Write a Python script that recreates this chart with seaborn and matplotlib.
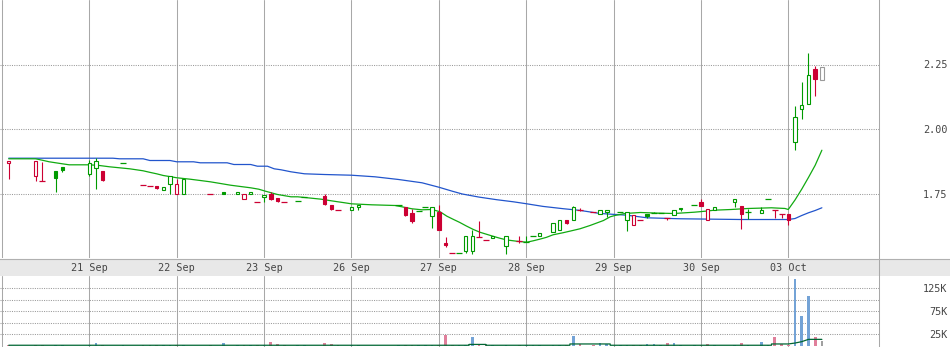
import numpy as np
import pandas as pd
import matplotlib
matplotlib.use("Agg")
import matplotlib.pyplot as plt
import seaborn as sns

# ---------------- data (half-hour bars, 13 slots per trading day) ----------------
day_labels = ["", "21 Sep", "22 Sep", "23 Sep", "26 Sep", "27 Sep", "28 Sep", "29 Sep", "30 Sep", "03 Oct"]
slots_per_day = 13

slot = [1, 5, 6, 8, 9, 13, 14, 15, 18, 21,
        22, 23, 24, 25, 26, 27, 31, 33, 35, 36,
        37, 38, 39, 40, 41, 42, 44, 45, 48, 49,
        50, 52, 53, 59, 60, 61, 62, 63, 64, 65,
        66, 67, 68, 69, 70, 71, 72, 73, 75, 77,
        78, 79, 80, 82, 83, 84, 85, 86, 88, 89,
        90, 92, 93, 94, 95, 96, 97, 98, 99, 100,
        101, 103, 104, 105, 106, 109, 110, 111, 113, 114,
        115, 116, 117, 118, 119, 120, 121, 122]

opens = [1.867, 1.817, 1.799, 1.839, 1.851, 1.825, 1.850, 1.839, 1.869, 1.784,
         1.780, 1.780, 1.764, 1.786, 1.749, 1.749, 1.749, 1.757, 1.749, 1.730,
         1.749, 1.718, 1.737, 1.750, 1.732, 1.718, 1.719, 1.735, 1.742, 1.704,
         1.687, 1.687, 1.699, 1.707, 1.699, 1.673, 1.682, 1.698, 1.664, 1.680,
         1.560, 1.520, 1.518, 1.526, 1.526, 1.581, 1.568, 1.578, 1.546, 1.565,
         1.561, 1.586, 1.587, 1.602, 1.607, 1.648, 1.648, 1.687, 1.679, 1.670,
         1.679, 1.678, 1.647, 1.629, 1.648, 1.670, 1.673, 1.673, 1.656, 1.667,
         1.695, 1.707, 1.718, 1.648, 1.687, 1.716, 1.700, 1.679, 1.674, 1.730,
         1.687, 1.669, 1.669, 1.950, 2.078, 2.098, 2.231, 2.191]

highs = [1.877, 1.877, 1.874, 1.839, 1.851, 1.878, 1.886, 1.839, 1.869, 1.784,
         1.780, 1.780, 1.776, 1.819, 1.808, 1.808, 1.749, 1.757, 1.757, 1.749,
         1.757, 1.718, 1.744, 1.757, 1.732, 1.718, 1.719, 1.735, 1.750, 1.704,
         1.687, 1.697, 1.706, 1.707, 1.699, 1.691, 1.682, 1.698, 1.699, 1.707,
         1.580, 1.520, 1.518, 1.587, 1.608, 1.645, 1.568, 1.587, 1.587, 1.585,
         1.585, 1.586, 1.595, 1.636, 1.648, 1.648, 1.702, 1.692, 1.679, 1.687,
         1.687, 1.678, 1.679, 1.667, 1.648, 1.670, 1.679, 1.673, 1.656, 1.687,
         1.695, 1.707, 1.730, 1.691, 1.699, 1.730, 1.700, 1.688, 1.699, 1.730,
         1.687, 1.669, 1.669, 2.091, 2.181, 2.293, 2.243, 2.241]

lows = [1.805, 1.798, 1.799, 1.755, 1.835, 1.817, 1.766, 1.797, 1.869, 1.784,
        1.780, 1.766, 1.764, 1.749, 1.749, 1.749, 1.749, 1.749, 1.749, 1.730,
        1.749, 1.718, 1.718, 1.724, 1.716, 1.718, 1.719, 1.735, 1.706, 1.685,
        1.687, 1.687, 1.685, 1.707, 1.661, 1.635, 1.682, 1.698, 1.616, 1.607,
        1.542, 1.520, 1.518, 1.520, 1.516, 1.581, 1.568, 1.578, 1.516, 1.557,
        1.561, 1.586, 1.587, 1.602, 1.607, 1.630, 1.648, 1.681, 1.679, 1.670,
        1.660, 1.678, 1.604, 1.629, 1.648, 1.656, 1.673, 1.673, 1.649, 1.667,
        1.683, 1.707, 1.700, 1.648, 1.687, 1.699, 1.614, 1.653, 1.674, 1.730,
        1.654, 1.656, 1.626, 1.918, 2.037, 2.098, 2.127, 2.191]

closes = [1.877, 1.876, 1.799, 1.809, 1.840, 1.869, 1.877, 1.802, 1.869, 1.784,
          1.780, 1.772, 1.776, 1.819, 1.786, 1.808, 1.749, 1.750, 1.757, 1.749,
          1.757, 1.718, 1.744, 1.730, 1.722, 1.718, 1.719, 1.735, 1.710, 1.691,
          1.687, 1.697, 1.706, 1.707, 1.666, 1.642, 1.682, 1.698, 1.699, 1.607,
          1.549, 1.520, 1.518, 1.587, 1.587, 1.581, 1.568, 1.587, 1.587, 1.565,
          1.561, 1.586, 1.595, 1.636, 1.648, 1.635, 1.697, 1.687, 1.679, 1.687,
          1.687, 1.678, 1.678, 1.667, 1.648, 1.662, 1.673, 1.673, 1.656, 1.687,
          1.688, 1.707, 1.700, 1.691, 1.699, 1.730, 1.669, 1.679, 1.687, 1.730,
          1.687, 1.669, 1.649, 2.047, 2.094, 2.211, 2.193, 2.241]

# change versus previous close: up / down / flat (live bar)
ticks = ["down", "down", "down", "up", "up", "up", "up", "down", "up", "down",
         "down", "down", "up", "up", "down", "up", "down", "up", "up", "down",
         "up", "down", "up", "down", "down", "down", "up", "up", "down", "down",
         "down", "up", "up", "up", "down", "down", "up", "up", "up", "down",
         "down", "down", "up", "up", "up", "down", "down", "up", "up", "down",
         "up", "up", "up", "up", "up", "down", "up", "down", "down", "up",
         "up", "up", "up", "down", "down", "up", "up", "up", "down", "up",
         "up", "up", "down", "down", "up", "up", "down", "up", "up", "up",
         "down", "down", "down", "up", "up", "up", "down", "flat"]

volumes = [2000, 2000, 2000, 2000, 2000, 2000, 6000, 2000, 2000, 2000,
           2000, 2000, 2000, 2000, 2000, 2000, 2000, 6000, 2000, 2000,
           2000, 2000, 2000, 8000, 3500, 2000, 2000, 2000, 6000, 3500,
           2000, 2000, 2000, 2000, 2000, 2000, 2000, 2000, 2000, 2500,
           23000, 2000, 2000, 2000, 19000, 2000, 2000, 2000, 2000, 2000,
           2000, 2000, 2000, 2000, 2000, 2500, 21000, 5000, 2000, 6000,
           5000, 2000, 2000, 2000, 2000, 3500, 3500, 2000, 6000, 6000,
           2000, 2000, 2000, 3500, 2000, 2000, 6000, 2000, 8000, 2000,
           19000, 3000, 2000, 145000, 65000, 108000, 19000, 10000]

# moving averages
ma_fast_x = [1, 5, 6, 7, 8, 9, 10, 13,
             14.5, 16, 17.5, 19, 20, 21, 22, 23, 24,
             26, 28, 29.5, 31, 32.5, 34, 35.5, 37, 38.2, 39.2,
             41, 43, 44, 45.5, 47.5, 49, 50, 51, 52, 55,
             58.5, 59.5, 61, 62.5, 64, 65.2, 66.2, 67.2, 68.1, 69.1,
             70.1, 71.1, 72.1, 73.1, 74.1, 75.1, 76.6, 78.1, 79.1, 80.1,
             81, 82, 83.5, 84.5, 86, 87.5, 89.5, 90.5, 91.2, 92.7,
             95, 97.5, 100, 103, 104.9, 106, 108.5, 111, 114.5, 116.5,
             117, 118, 119, 120, 121, 122]
ma_fast_y = [1.8845, 1.8845, 1.879, 1.873, 1.869, 1.865, 1.8612, 1.8612,
             1.8585, 1.8535, 1.8496, 1.8457, 1.8419, 1.838, 1.832, 1.8264, 1.8198,
             1.811, 1.8054, 1.8004, 1.7953, 1.7888, 1.7822, 1.7771, 1.7721, 1.7667, 1.7589,
             1.7461, 1.7372, 1.7372, 1.7333, 1.7279, 1.7217, 1.7178, 1.714, 1.71, 1.7062,
             1.7035, 1.6985, 1.6907, 1.6868, 1.688, 1.679, 1.662, 1.6492, 1.638, 1.624,
             1.611, 1.600, 1.592, 1.584, 1.5765, 1.570, 1.565, 1.5612, 1.567, 1.5735,
             1.580, 1.590, 1.598, 1.604, 1.6132, 1.626, 1.6453, 1.6597, 1.6647, 1.6725,
             1.6764, 1.674, 1.6725, 1.6775, 1.682, 1.6853, 1.688, 1.6919, 1.6946, 1.692,
             1.688, 1.7248, 1.7667, 1.812, 1.8593, 1.9178]

ma_slow_x = [1, 16.5, 17.5, 21, 22, 25, 26, 28.5, 29.5, 33.5,
             34.5, 37, 38, 39.5, 40.5, 41.5, 43, 45, 48, 52,
             55.5, 59, 62.5, 65, 67, 68.5, 71, 73.6, 76.1, 78.1,
             80.5, 83.5, 86, 89, 93, 96, 101, 110, 117, 118,
             119, 120, 121, 122]
ma_slow_y = [1.8868, 1.8868, 1.8845, 1.8845, 1.8779, 1.8779, 1.8729, 1.8729, 1.869, 1.869,
             1.8624, 1.8624, 1.8558, 1.8558, 1.8457, 1.842, 1.8341, 1.8264, 1.8236, 1.8209,
             1.8147, 1.8043, 1.7915, 1.7744, 1.7589, 1.748, 1.736, 1.726, 1.7178, 1.71,
             1.70, 1.6911, 1.6845, 1.6725, 1.6659, 1.6558, 1.652, 1.6492, 1.6492, 1.653,
             1.6647, 1.6752, 1.6841, 1.6946]

vol_ma_x = [1, 69.5, 69.5, 72, 72, 84.5, 84.5, 90.5, 90.5, 114.5, 114.5, 117, 118, 119, 120, 122]
vol_ma_y = [1200, 1200, 3000, 3000, 1200, 1200, 4000, 4000, 1200, 1200, 4000, 4000, 6000, 9000, 14000, 14000]

price_ticks = [1.75, 2.00, 2.25]
vol_ticks = [25000, 50000, 75000, 100000, 125000]
vol_tick_labels = ["25K", "", "75K", "", "125K"]

# ---------------- styling ----------------
sns.set_style("white")
plt.rcParams["font.family"] = ["DejaVu Sans Mono", "DejaVu Sans"]

GREEN = "#009a00"
RED = "#cc0033"
GREY = "#9a9a9a"
GRID = "#a8a8a8"
TXT = "#454545"
candle_col = {"up": GREEN, "down": RED, "flat": GREY}
vol_col = {"up": "#74a3d6", "down": "#e07f9b", "flat": "#a0a0a0"}

W, H = 950, 347
fig = plt.figure(figsize=(W / 100, H / 100), dpi=100)


def rect(x0, y0, x1, y1):
    return [x0 / W, 1 - y1 / H, (x1 - x0) / W, (y1 - y0) / H]


ax_strip = fig.add_axes(rect(0, 259, W, 276), zorder=0)
ax = fig.add_axes(rect(0, 0, 879, 258), zorder=2)
axv = fig.add_axes(rect(0, 276, 879, 347), zorder=2)

df = pd.DataFrame(dict(slot=slot, open=opens, high=highs, low=lows,
                       close=closes, tick=ticks, volume=volumes))
df["color"] = df["tick"].map(candle_col)

day_pos = [i * slots_per_day for i in range(len(day_labels))]
XLIM = (-0.3, 130.5)

# ---- date strip ----
ax_strip.set_facecolor("#e8e8e8")
ax_strip.set_xticks([])
ax_strip.set_yticks([])
for s in ["left", "right", "bottom"]:
    ax_strip.spines[s].set_visible(False)
ax_strip.spines["top"].set_color("#b0b0b0")
ax_strip.spines["top"].set_linewidth(0.8)
ax_strip.axvline(879 / W, color=GRID, lw=0.75)

# ---- price panel ----
ax.vlines(df["slot"], df["low"], df["high"], colors=df["color"], linewidth=0.8, zorder=3)
body = df[df["open"] != df["close"]]
filled = (body["close"] < body["open"]).to_numpy()
ax.bar(body["slot"], (body["close"] - body["open"]).abs(),
       bottom=body[["open", "close"]].min(axis=1), width=0.5,
       color=np.where(filled, body["color"], "white"),
       edgecolor=body["color"], linewidth=0.8, zorder=4)
dash = df[df["open"] == df["close"]]
ax.hlines(dash["close"], dash["slot"] - 0.45, dash["slot"] + 0.45,
          colors=dash["color"], linewidth=0.9, zorder=4)

sns.lineplot(x=ma_slow_x, y=ma_slow_y, ax=ax, color="#2255cc", linewidth=0.9,
             sort=False, estimator=None, zorder=2)
sns.lineplot(x=ma_fast_x, y=ma_fast_y, ax=ax, color="#11aa11", linewidth=0.9,
             sort=False, estimator=None, zorder=2)

ax.set_xlim(*XLIM)
ax.set_ylim(1.5, 2.5)
ax.set_xticks(day_pos)
ax.set_xticklabels(day_labels)
ax.set_yticks(price_ticks)
ax.set_yticklabels([f"{v:.2f}" for v in price_ticks])
ax.yaxis.tick_right()
ax.tick_params(axis="x", length=0, pad=3.8, labelsize=7.3, labelcolor=TXT)
ax.tick_params(axis="y", length=0, pad=49.5, labelsize=7.3, labelcolor=TXT)
for lbl in ax.get_yticklabels():
    lbl.set_horizontalalignment("right")
ax.xaxis.grid(True, color=GRID, linewidth=0.75, linestyle="-")
ax.yaxis.grid(True, color="#9a9a9a", linewidth=0.75, linestyle=(0, (1, 1.2)))
ax.set_axisbelow(True)
for s in ["left", "top", "bottom"]:
    ax.spines[s].set_visible(False)
ax.spines["right"].set_color(GRID)
ax.spines["right"].set_linewidth(0.75)
ax.set_xlabel("")
ax.set_ylabel("")

# ---- volume panel ----
sns.barplot(data=df, x="slot", y="volume", hue="tick", palette=vol_col,
            native_scale=True, width=0.4, dodge=False, legend=False,
            errorbar=None, linewidth=0, saturation=1, ax=axv, zorder=3)
sns.lineplot(x=vol_ma_x, y=vol_ma_y, ax=axv, color="#006633", linewidth=0.9,
             sort=False, estimator=None, zorder=4)
axv.set_xlim(*XLIM)
axv.set_ylim(-2600, 151700)
axv.set_xticks(day_pos)
axv.set_xticklabels([])
axv.set_yticks(vol_ticks)
axv.set_yticklabels(vol_tick_labels)
axv.yaxis.tick_right()
axv.tick_params(axis="x", length=0)
axv.tick_params(axis="y", length=0, pad=49.5, labelsize=7.3, labelcolor=TXT)
for lbl in axv.get_yticklabels():
    lbl.set_horizontalalignment("right")
axv.xaxis.grid(True, color=GRID, linewidth=0.75, linestyle="-")
axv.yaxis.grid(True, color="#9a9a9a", linewidth=0.75, linestyle=(0, (1, 1.2)))
axv.set_axisbelow(True)
for s in ["left", "top", "bottom"]:
    axv.spines[s].set_visible(False)
axv.spines["right"].set_color(GRID)
axv.spines["right"].set_linewidth(0.75)
axv.set_xlabel("")
axv.set_ylabel("")

fig.savefig("out.png", dpi=100)
